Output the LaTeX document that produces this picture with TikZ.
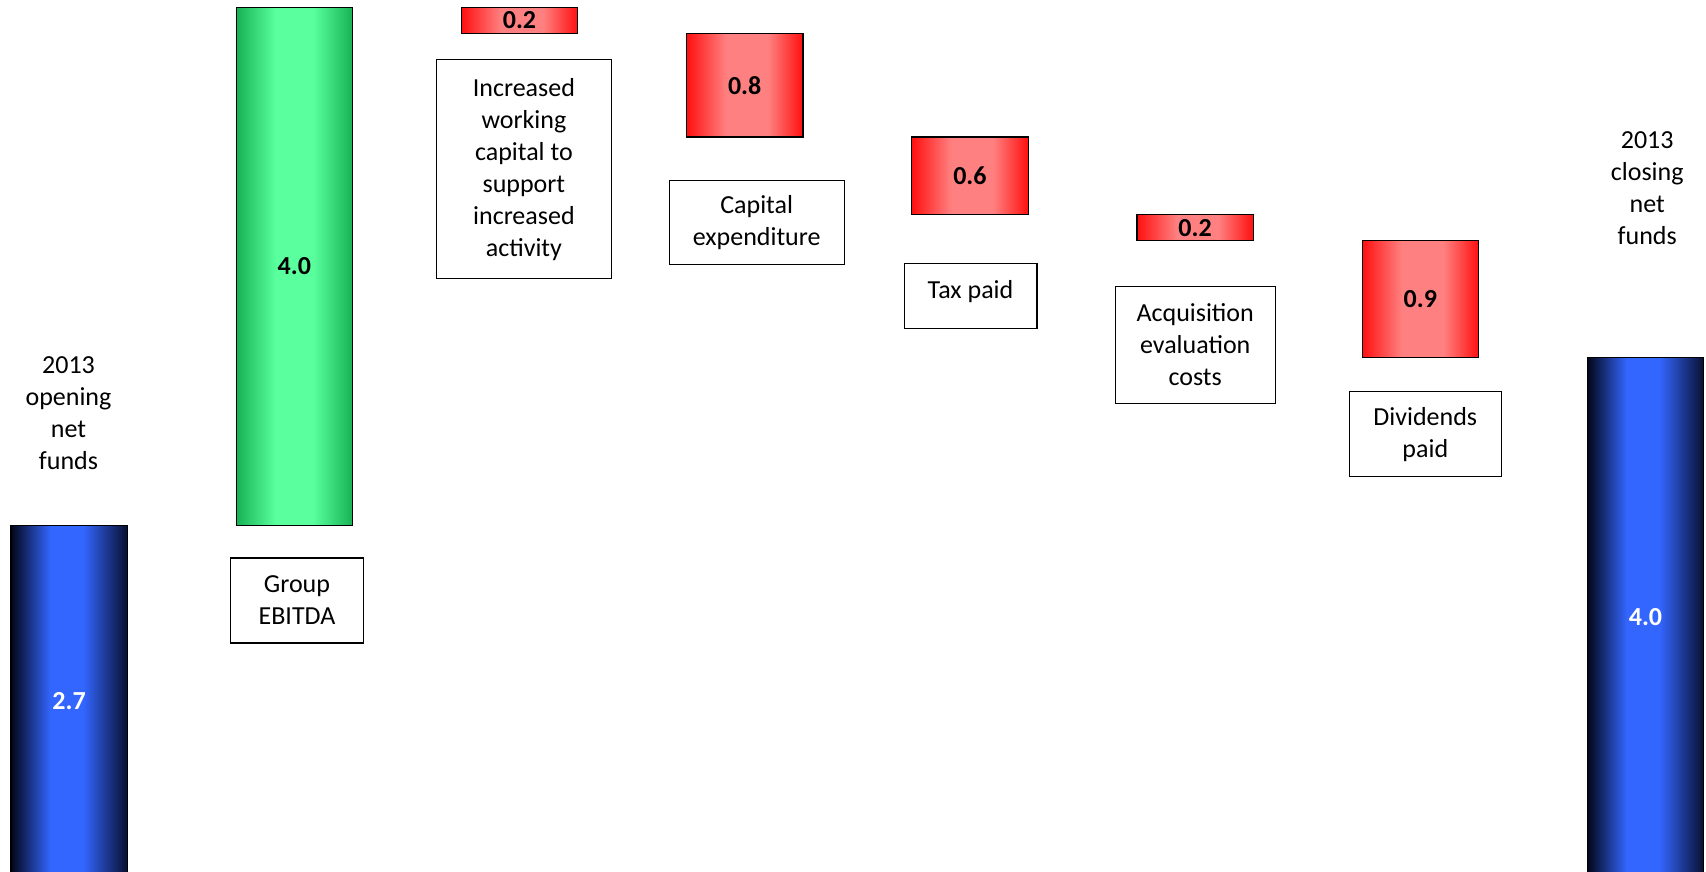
\documentclass[tikz,border=0pt]{standalone}
\usepackage{fontspec}
\setmainfont{Carlito}
\definecolor{rEdge}{RGB}{255,16,16}
\definecolor{rMid}{RGB}{255,128,128}
\definecolor{gEdge}{RGB}{22,178,84}
\definecolor{gMid}{RGB}{90,255,158}
\definecolor{bEdgeL}{RGB}{2,6,24}
\definecolor{bEdgeR}{RGB}{8,16,48}
\definecolor{bMid}{RGB}{51,102,255}
\pgfdeclarehorizontalshading{redsh}{100bp}{color(0bp)=(rEdge); color(25bp)=(rEdge); color(42bp)=(rMid); color(60bp)=(rMid); color(75bp)=(rEdge); color(100bp)=(rEdge)}
\pgfdeclarehorizontalshading{greensh}{100bp}{color(0bp)=(gEdge); color(25bp)=(gEdge); color(42bp)=(gMid); color(58bp)=(gMid); color(75bp)=(gEdge); color(100bp)=(gEdge)}
\pgfdeclarehorizontalshading{bluesh}{100bp}{color(0bp)=(bEdgeL); color(25bp)=(bEdgeL); color(42bp)=(bMid); color(56bp)=(bMid); color(75bp)=(bEdgeR); color(100bp)=(bEdgeR)}
\begin{document}
\begin{tikzpicture}[x=1pt,y=-1pt,
  bar/.style={draw=black, line width=1.2pt, inner sep=0pt, minimum width=116.4pt,
    font=\fontsize{26pt}{32pt}\selectfont\bfseries},
  redbar/.style={bar, shade, shading=redsh},
  greenbar/.style={bar, shade, shading=greensh},
  bluebar/.style={bar, shade, shading=bluesh, text=white},
  lbox/.style={draw=black, line width=1.2pt, fill=white, inner sep=0pt, align=center,
    font=\fontsize{26pt}{32pt}\selectfont},
  ftext/.style={align=center, font=\fontsize{26pt}{32pt}\selectfont}]
\useasboundingbox (0,0) rectangle (1706,872);
\clip (0,0) rectangle (1706,872);
% bars
\node[bluebar, minimum height=350.5pt] (open) at (69.1,700.75) {2.7};
\node[greenbar, minimum height=518pt] (ebitda) at (294.3,266.5) {4.0};
\node[redbar, minimum height=25.9pt] (wc) at (519.5,20.45) {0.2};
\node[redbar, minimum height=103.6pt] (capex) at (744.7,85.2) {0.8};
\node[redbar, minimum height=77.7pt] (tax) at (969.9,175.85) {0.6};
\node[redbar, minimum height=25.9pt] (acq) at (1195.1,227.65) {0.2};
\node[redbar, minimum height=116.6pt] (div) at (1420.3,298.9) {0.9};
\node[bluebar, minimum height=518.8pt] (close) at (1645.5,616.6) {4.0};
% captions
\node[ftext] (lopen) at (68.5,413) {2013\\opening\\net\\funds};
\node[ftext] (lclose) at (1647.2,188.5) {2013\\closing\\net\\funds};
\node[lbox, minimum width=132.7pt, minimum height=84.9pt] (lebitda) at (297,600.5) {Group\\EBITDA};
\node[lbox, minimum width=175.2pt, minimum height=218.7pt] (lwc) at (523.9,169.2) {Increased\\working\\capital to\\support\\increased\\activity};
\node[lbox, minimum width=175.2pt, minimum height=83.8pt] (lcapex) at (756.7,222.5) {Capital\\expenditure};
\node[lbox, minimum width=132.8pt, minimum height=65.3pt, text depth=12.3pt] (ltax) at (970.5,296) {Tax paid};
\node[lbox, minimum width=159.9pt, minimum height=117.5pt] (lacq) at (1195.2,344.9) {Acquisition\\evaluation\\costs};
\node[lbox, minimum width=152.3pt, minimum height=84.8pt] (ldiv) at (1425.3,434.1) {Dividends\\paid};
\end{tikzpicture}
\end{document}
